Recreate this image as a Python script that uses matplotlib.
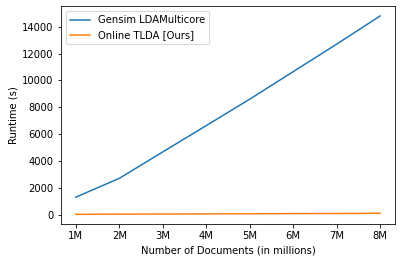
import numpy as np
import matplotlib
matplotlib.use('Agg')
import matplotlib.pyplot as plt

x_labels = ['1M', '2M', '3M', '4M', '5M', '6M', '7M', '8M']
gensim_runtime = [1300, 2700, 4670, 6630, 8600, 10650, 12700, 14800]
tlda_runtime = [20, 35, 45, 55, 65, 75, 85, 100]

fig = plt.figure(figsize=(401 / 72.0, 262 / 72.0), dpi=72)
ax = fig.add_axes([0.151, 0.144, 0.835, 0.833])

x = np.arange(1, len(x_labels) + 1)
ax.plot(x, gensim_runtime, label='Gensim LDAMulticore')
ax.plot(x, tlda_runtime, label='Online TLDA [Ours]')
ax.set_xticks(x)
ax.set_xticklabels(x_labels)
ax.set_xlabel('Number of Documents (in millions)')
ax.set_ylabel('Runtime (s)')
ax.legend(loc='upper left')

fig.savefig('out.png', dpi=72)
